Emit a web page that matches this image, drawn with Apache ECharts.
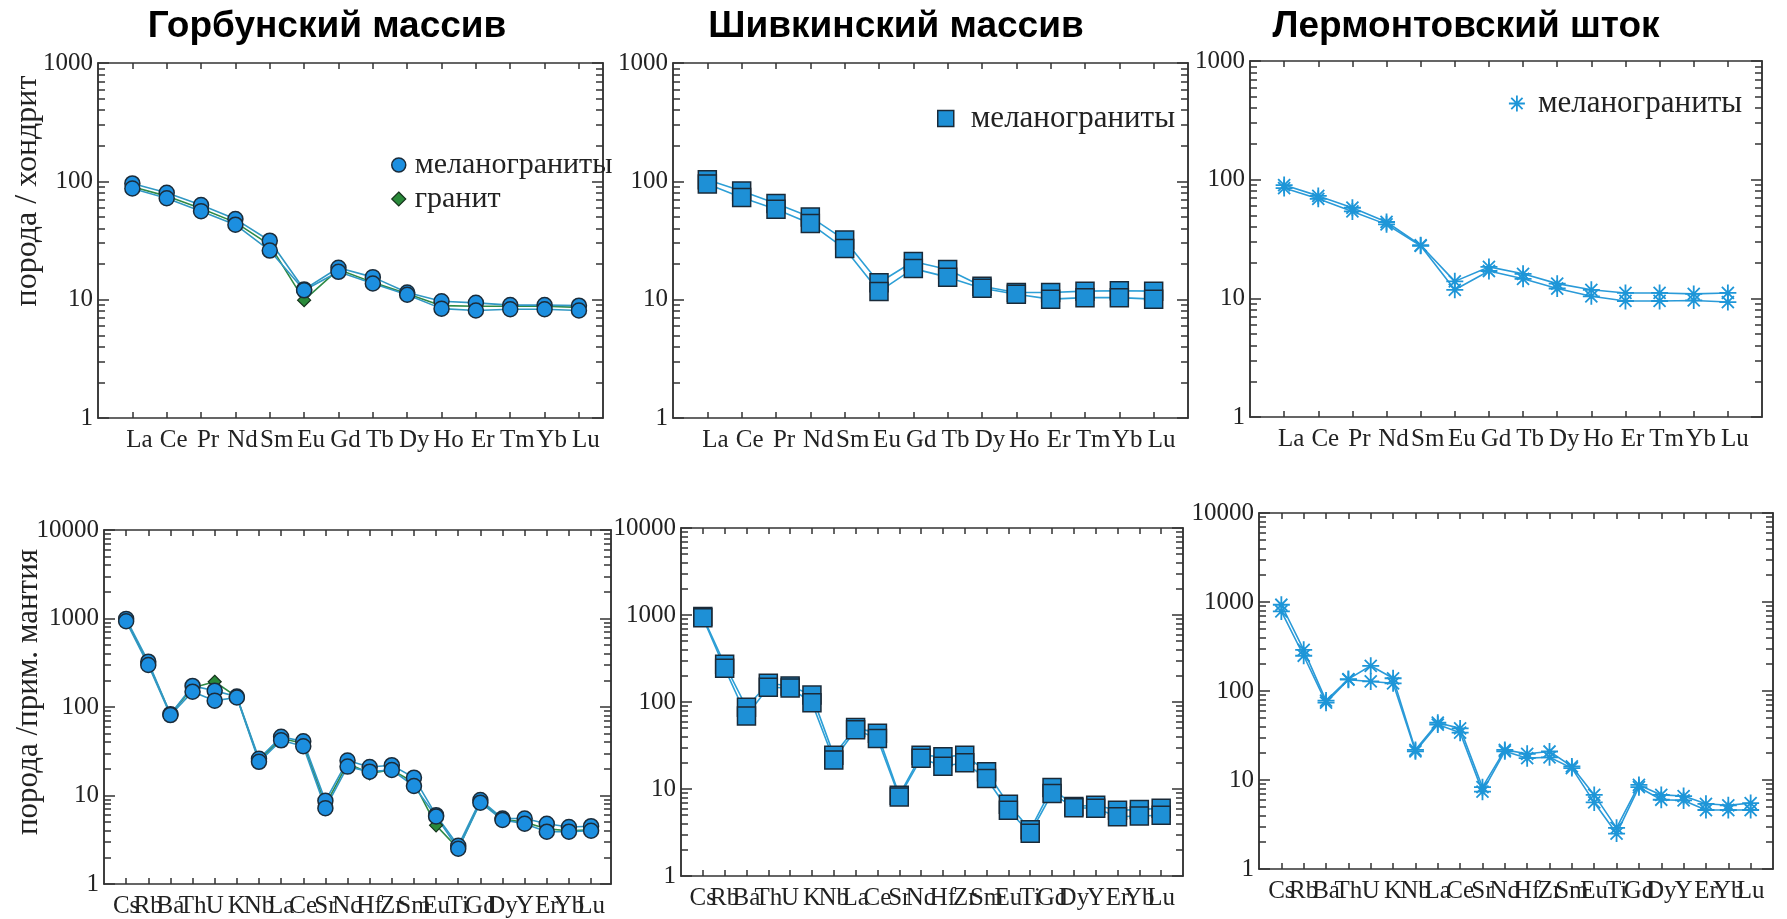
<!DOCTYPE html>
<html>
<head>
<meta charset="utf-8">
<script src="https://cdn.jsdelivr.net/npm/echarts@6/dist/echarts.min.js"></script>
<style>html,body{margin:0;padding:0;background:#fff;}#c{width:1787px;height:919px;}</style>
</head>
<body>
<div id="c"></div>
<script>
// ---- categories ----
const REE = ['La','Ce','Pr','Nd','Sm','Eu','Gd','Tb','Dy','Ho','Er','Tm','Yb','Lu'];
const SPIDER = ['Cs','Rb','Ba','Th','U','K','Nb','La','Ce','Sr','Nd','Hf','Zr','Sm','Eu','Ti','Gd','Dy','Y','Er','Yb','Lu'];

// ---- titles / axis names ----
const TITLES = ['Горбунский массив','Шивкинский массив','Лермонтовский шток'];
const YNAME_REE = 'порода / хондрит';
const YNAME_SP = 'порода /прим. мантия';
const LEG_MEL = 'меланограниты';
const LEG_GRAN = 'гранит';
const TICKS_REE = [1,10,100,1000];
const TICKS_SP = [1,10,100,1000,10000];

// ---- REE (chondrite-normalised) ----
const gorbREE_a = [96,80,63,48,31.5,12.2,18.6,15.5,11.5,9.7,9.4,9.0,9.0,8.9];
const gorbREE_b = [87,72,56,43,26,12.0,17.2,13.7,11.0,8.4,8.1,8.3,8.3,8.1];
const gorbREE_gr = [90,75,59,45,29,9.9,18,14,11.2,8.9,8.8,8.8,8.8,8.6];

const shivREE_a = [103,83,65,50,32,13.9,21,18,13.0,11.5,11.5,11.8,11.9,11.8];
const shivREE_b = [95,73,58,44,27,11.7,18.3,15.5,12.5,11.1,10.1,10.4,10.4,10.1];

const lermREE_a = [90,73,58,44,28,13.9,18.4,16.1,13.3,11.8,11.1,11.1,10.9,11.1];
const lermREE_b = [85,69,54,42,27.7,11.8,17,14.6,12.1,10.4,9.5,9.5,9.6,9.3];

// ---- spider (primitive-mantle-normalised) ----
const gorbSp_a = [990,325,83,173,153,131,26,46,41,8.7,24.8,21,22,15.9,6.0,2.7,8.9,5.5,5.5,4.8,4.4,4.5];
const gorbSp_b = [930,298,81,149,118,128,24,42,36,7.2,21.2,18.6,19.4,12.8,5.8,2.5,8.3,5.3,4.8,3.9,3.9,4.0];
const gorbSp_gr = [950,310,83,165,193,130,25,44,39,7.8,23,17.8,19.5,14,4.6,2.5,8.6,5.4,5.0,4.2,4.0,4.1];

const shivSp_a = [961,271,87,164,153,120,24.5,51,43.6,8.5,24.5,23.5,24.5,15.8,6.7,3.4,10.4,6.3,6.5,5.7,5.8,6.0];
const shivSp_b = [930,244,69,148,145,98,21.5,48,38,8.1,22.5,18.3,20,13.2,5.7,3.1,8.9,6.1,6.0,4.8,4.9,5.0];

const lermSp_a = [931,290,78,136,192,139,21.8,44,38,8.3,21.8,19.7,20.9,14.2,6.8,2.9,8.8,6.8,6.6,5.4,5.2,5.5];
const lermSp_b = [783,249,74,134,128,122,21,42,34,7.4,21,17.6,18,13.6,5.6,2.5,8.3,6.0,5.9,4.6,4.6,4.6];

// ---- styles ----
const AX = '#333';
const SERIF = 'Liberation Serif';
const ASTER = 'path://M10,0L10,20M0,10L20,10M2.93,2.93L17.07,17.07M2.93,17.07L17.07,2.93';
const MK = {
  circle: {symbol:'circle', size:15, fill:'#1c8fe0', border:'#1b2c3a', bw:1.5, line:'#3198c4'},
  granite:{symbol:'diamond', size:13, fill:'#2a8a3a', border:'#16331c', bw:1.2, line:'#2f8a46'},
  square: {symbol:'rect', size:18, fill:'#1e90d6', border:'#1a2a38', bw:1.5, line:'#2d9fd6'},
  aster:  {symbol:ASTER, size:17, fill:'transparent', border:'#1e96d8', bw:1.8, line:'#2a9ad8'}
};

const panels = [
  {grid:{left:98, top:63, width:505, height:355}, cats:REE, xmax:14.7, ymax:1000, ticks:TICKS_REE, lblPad:14,
   series:[[LEG_GRAN,gorbREE_gr,'granite'],[LEG_MEL,gorbREE_a,'circle'],[LEG_MEL,gorbREE_b,'circle']]},
  {grid:{left:673, top:63, width:515, height:355}, cats:REE, xmax:15, ymax:1000, ticks:TICKS_REE, lblPad:16,
   series:[[LEG_MEL,shivREE_a,'square'],[LEG_MEL,shivREE_b,'square']]},
  {grid:{left:1250, top:61, width:512, height:356}, cats:REE, xmax:15, ymax:1000, ticks:TICKS_REE, lblPad:14,
   series:[[LEG_MEL,lermREE_a,'aster'],[LEG_MEL,lermREE_b,'aster']]},
  {grid:{left:104, top:530, width:507, height:354}, cats:SPIDER, xmax:22.9, ymax:10000, ticks:TICKS_SP, lblPad:0,
   series:[[LEG_GRAN,gorbSp_gr,'granite'],[LEG_MEL,gorbSp_a,'circle'],[LEG_MEL,gorbSp_b,'circle']]},
  {grid:{left:681, top:528, width:502, height:348}, cats:SPIDER, xmax:23, ymax:10000, ticks:TICKS_SP, lblPad:0,
   series:[[LEG_MEL,shivSp_a,'square'],[LEG_MEL,shivSp_b,'square']]},
  {grid:{left:1259, top:513, width:514, height:356}, cats:SPIDER, xmax:23, ymax:10000, ticks:TICKS_SP, lblPad:0,
   series:[[LEG_MEL,lermSp_a,'aster'],[LEG_MEL,lermSp_b,'aster']]}
];

function minorValues(ticks){
  const out = [];
  for (let i = 0; i < ticks.length - 1; i++) for (let k = 2; k <= 9; k++) out.push(ticks[i]*k);
  return out;
}

const grid = [], xAxis = [], yAxis = [], series = [];
panels.forEach((p, pi) => {
  grid.push(Object.assign({containLabel:false}, p.grid));
  const idx = p.cats.map((_, i) => i + 1);
  const odd = idx.filter(v => v % 2 === 1), even = idx.filter(v => v % 2 === 0);
  const xBase = {type:'value', gridIndex:pi, min:0, max:p.xmax, splitLine:{show:false},
    axisLine:{show:true, onZero:false, lineStyle:{color:AX, width:1.5}}};
  const lbl = vals => ({show:true, customValues:vals, showMinLabel:true, showMaxLabel:true, hideOverlap:false,
      formatter:v => p.cats[Math.round(v)-1] || '',
      fontFamily:SERIF, fontSize:25, color:'#222', margin:10, padding:[0,0,0,p.lblPad]});
  // bottom axis: line, ticks, odd labels  (index 3*pi)
  xAxis.push(Object.assign({}, xBase, {position:'bottom',
    axisTick:{show:true, inside:true, length:6, customValues:idx, lineStyle:{color:AX, width:1.5}},
    axisLabel:lbl(odd)}));
  // bottom overlay axis: even labels only (index 3*pi+1)
  xAxis.push(Object.assign({}, xBase, {position:'bottom', axisLine:{show:false}, axisTick:{show:false},
    axisLabel:lbl(even)}));
  // top axis: line + ticks (index 3*pi+2)
  xAxis.push(Object.assign({}, xBase, {position:'top',
    axisTick:{show:true, inside:true, length:6, customValues:idx, lineStyle:{color:AX, width:1.5}},
    axisLabel:{show:false}}));
  const yBase = {type:'log', logBase:10, gridIndex:pi, min:1, max:p.ymax, splitLine:{show:false},
    axisLine:{show:true, onZero:false, lineStyle:{color:AX, width:1.5}}};
  const minors = minorValues(p.ticks);
  ['left','right'].forEach(pos => {
    yAxis.push(Object.assign({}, yBase, {position:pos,
      axisTick:{show:true, inside:true, length:11, customValues:p.ticks, lineStyle:{color:AX, width:1.5}},
      axisLabel:{show: pos === 'left', customValues:p.ticks, showMinLabel:true, showMaxLabel:true,
        formatter:v => String(Math.round(v)),
        fontFamily:SERIF, fontSize:25, color:'#222', margin:5}}));
    yAxis.push(Object.assign({}, yBase, {position:pos,
      axisTick:{show:true, inside:true, length:7, customValues:minors, lineStyle:{color:AX, width:1.5}},
      axisLabel:{show:false}}));
  });
  p.series.forEach(([name, vals, kind]) => {
    const m = MK[kind];
    series.push({type:'line', name:name, xAxisIndex:3*pi, yAxisIndex:4*pi,
      data: vals.map((v, i) => [i + 1, v]),
      symbol:m.symbol, symbolSize:m.size, showSymbol:true,
      lineStyle:{color:m.line, width:1.6},
      itemStyle:{color:m.fill, borderColor:m.border, borderWidth:m.bw},
      emphasis:{disabled:true}, silent:true, animation:false});
  });
});

const legTxt = {fontFamily:SERIF, fontSize:31, color:'#222'};
const legend = [
  {orient:'vertical', left:386, top:143, itemWidth:14, itemHeight:14, itemGap:0, selectedMode:false,
   textStyle:Object.assign({padding:[0,0,0,4], lineHeight:34}, legTxt, {fontSize:30}),
   data:[{name:LEG_MEL, icon:'circle', itemStyle:{color:MK.circle.fill, borderColor:MK.circle.border, borderWidth:1.5}},
         {name:LEG_GRAN, icon:'diamond', itemStyle:{color:MK.granite.fill, borderColor:MK.granite.border, borderWidth:1.2}}]},
  {orient:'vertical', left:932, top:98, itemWidth:16, itemHeight:16, selectedMode:false,
   textStyle:Object.assign({padding:[0,0,0,12]}, legTxt),
   data:[{name:LEG_MEL, icon:'rect', itemStyle:{color:MK.square.fill, borderColor:MK.square.border, borderWidth:1.5}}]},
  {orient:'vertical', left:1503, top:83, itemWidth:16, itemHeight:16, selectedMode:false,
   textStyle:Object.assign({padding:[0,0,0,8]}, legTxt),
   data:[{name:LEG_MEL, icon:ASTER, itemStyle:{color:'transparent', borderColor:MK.aster.border, borderWidth:1.8}}]}
];

const titleX = [327, 896, 1466];
const graphic = TITLES.map((t, i) => ({type:'text', x:titleX[i], y:27,
  style:{text:t, fontFamily:'Liberation Sans', fontWeight:'bold', fontSize:37, fill:'#000',
    textAlign:'center', textVerticalAlign:'middle'}}));
// rotated y-axis titles
graphic.push({type:'text', x:28, y:191, rotation:Math.PI/2,
  style:{text:YNAME_REE, fontFamily:SERIF, fontSize:32, fill:'#222', textAlign:'center', textVerticalAlign:'middle'}});
graphic.push({type:'text', x:29, y:692, rotation:Math.PI/2,
  style:{text:YNAME_SP, fontFamily:SERIF, fontSize:31, fill:'#222', textAlign:'center', textVerticalAlign:'middle'}});

const chart = echarts.init(document.getElementById('c'), null, {renderer:'canvas'});
chart.setOption({animation:false, backgroundColor:'#fff', grid, xAxis, yAxis, series, legend, graphic});
</script>
</body>
</html>
